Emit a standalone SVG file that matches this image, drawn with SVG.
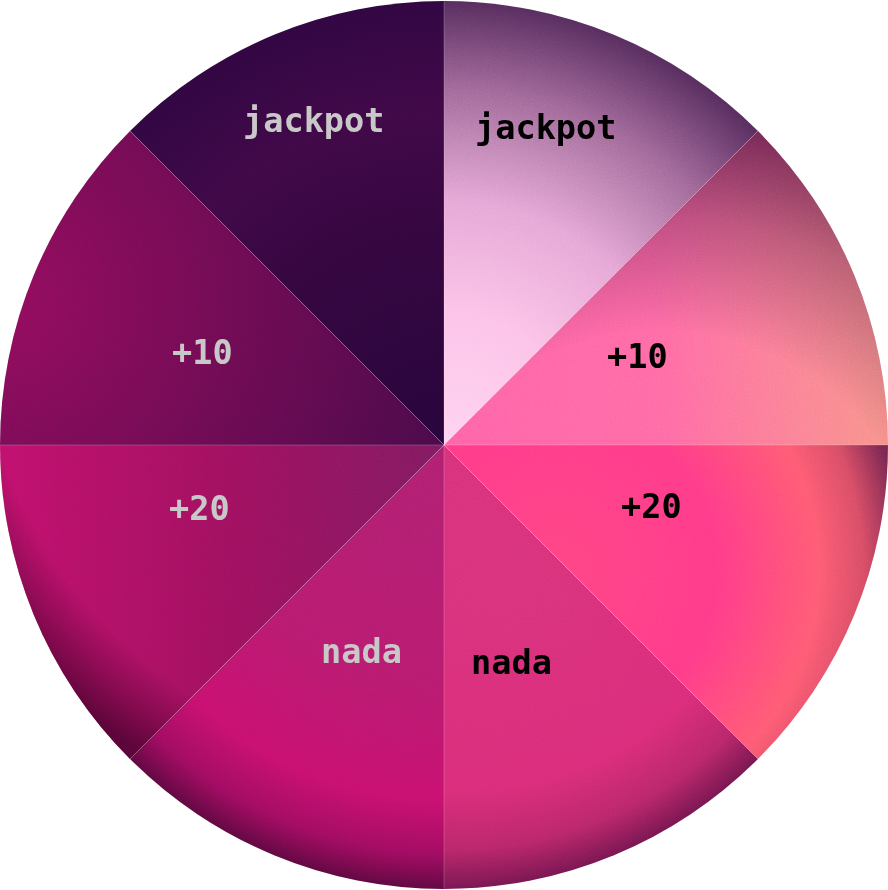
<svg xmlns="http://www.w3.org/2000/svg" width="888" height="890" viewBox="0 0 888 890">
<defs>
<style>
.lbl{font-family:"DejaVu Sans Mono","Liberation Mono",monospace;font-weight:bold;font-size:33.6px}
.dk{fill:#000000}
.lt{fill:#c8c8c8}
.seam{stroke:#ffffff;stroke-opacity:0.25;stroke-width:0.8;fill:none}
</style>
<clipPath id="pie"><circle cx="444" cy="445" r="444"/></clipPath>
<radialGradient id="g1" gradientUnits="userSpaceOnUse" cx="444" cy="445" r="444">
<stop offset="0" stop-color="#ffd2f2"/><stop offset="0.3" stop-color="#fcc2e8"/><stop offset="0.55" stop-color="#e6a6d6"/><stop offset="0.8" stop-color="#a06898"/><stop offset="1" stop-color="#552c5c"/>
</radialGradient>
<linearGradient id="g2" gradientUnits="userSpaceOnUse" x1="444" y1="445" x2="888" y2="420">
<stop offset="0" stop-color="#ff62a8"/><stop offset="0.5" stop-color="#ff6aa4"/><stop offset="1" stop-color="#f8928a"/>
</linearGradient>
<radialGradient id="v2" gradientUnits="userSpaceOnUse" cx="660" cy="600" r="480">
<stop offset="0.56" stop-color="#5a1848" stop-opacity="0"/><stop offset="0.8" stop-color="#5a1848" stop-opacity="0.4"/><stop offset="1" stop-color="#5a1848" stop-opacity="0.85"/>
</radialGradient>
<radialGradient id="g3" gradientUnits="userSpaceOnUse" cx="560" cy="570" r="345">
<stop offset="0" stop-color="#ff4482"/><stop offset="0.45" stop-color="#ff3a88"/><stop offset="0.75" stop-color="#ff5a72"/><stop offset="0.88" stop-color="#d84c64"/><stop offset="1" stop-color="#782650"/>
</radialGradient>
<radialGradient id="g4" gradientUnits="userSpaceOnUse" cx="444" cy="445" r="444" fx="520" fy="560">
<stop offset="0" stop-color="#d8327a"/><stop offset="0.7" stop-color="#da2c78"/><stop offset="0.88" stop-color="#b82668"/><stop offset="1" stop-color="#761650"/>
</radialGradient>
<radialGradient id="g5" gradientUnits="userSpaceOnUse" cx="444" cy="445" r="444">
<stop offset="0" stop-color="#ae2070"/><stop offset="0.55" stop-color="#b81a6e"/><stop offset="0.8" stop-color="#c8106e"/><stop offset="0.92" stop-color="#a00c60"/><stop offset="1" stop-color="#5e0840"/>
</radialGradient>
<linearGradient id="g6" gradientUnits="userSpaceOnUse" x1="0" y1="470" x2="444" y2="470">
<stop offset="0" stop-color="#c0106c"/><stop offset="0.5" stop-color="#a0105e"/><stop offset="1" stop-color="#7e1a60"/>
</linearGradient>
<radialGradient id="v6" gradientUnits="userSpaceOnUse" cx="444" cy="300" r="545">
<stop offset="0.86" stop-color="#3c0028" stop-opacity="0"/><stop offset="1" stop-color="#3c0028" stop-opacity="0.75"/>
</radialGradient>
<radialGradient id="g7" gradientUnits="userSpaceOnUse" cx="0" cy="300" r="470">
<stop offset="0" stop-color="#920c5c"/><stop offset="1" stop-color="#480a48"/>
</radialGradient>
<radialGradient id="g8" gradientUnits="userSpaceOnUse" cx="444" cy="445" r="444">
<stop offset="0" stop-color="#26043a"/><stop offset="0.5" stop-color="#34063e"/><stop offset="0.75" stop-color="#3e0845"/><stop offset="1" stop-color="#300640"/>
</radialGradient>
<filter id="grain" x="0" y="0" width="888" height="890" filterUnits="userSpaceOnUse">
<feTurbulence type="fractalNoise" baseFrequency="0.85" numOctaves="2" seed="3" result="n"/>
<feColorMatrix type="saturate" values="0"/>
</filter>
</defs>
<g id="slice-jackpot-right">
<path d="M444,445 L444,1 A444,444 0 0 1 757.96,131.04 Z" fill="url(#g1)"/>
</g>
<g id="slice-plus10-right">
<path d="M444,445 L757.96,131.04 A444,444 0 0 1 888,445 Z" fill="url(#g2)"/>
<path d="M444,445 L757.96,131.04 A444,444 0 0 1 888,445 Z" fill="url(#v2)"/>
</g>
<g id="slice-plus20-right">
<path d="M444,445 L888,445 A444,444 0 0 1 757.96,758.96 Z" fill="url(#g3)"/>
</g>
<g id="slice-nada-right">
<path d="M444,445 L757.96,758.96 A444,444 0 0 1 444,889 Z" fill="url(#g4)"/>
</g>
<g id="slice-nada-left">
<path d="M444,445 L444,889 A444,444 0 0 1 130.04,758.96 Z" fill="url(#g5)"/>
</g>
<g id="slice-plus20-left">
<path d="M444,445 L130.04,758.96 A444,444 0 0 1 0,445 Z" fill="url(#g6)"/>
<path d="M444,445 L130.04,758.96 A444,444 0 0 1 0,445 Z" fill="url(#v6)"/>
</g>
<g id="slice-plus10-left">
<path d="M444,445 L0,445 A444,444 0 0 1 130.04,131.04 Z" fill="url(#g7)"/>
</g>
<g id="slice-jackpot-left">
<path d="M444,445 L130.04,131.04 A444,444 0 0 1 444,1 Z" fill="url(#g8)"/>
</g>
<rect x="0" y="0" width="888" height="890" filter="url(#grain)" clip-path="url(#pie)" opacity="0.22" style="mix-blend-mode:overlay"/>
<g id="seams" class="seam">
<path d="M444,1 L444,889 M0,445 L888,445 M130.04,131.04 L757.96,758.96 M757.96,131.04 L130.04,758.96"/>
</g>
<g id="labels" class="lbl">
<text class="dk" x="475" y="139">jackpot</text>
<text class="lt" x="243" y="132">jackpot</text>
<text class="dk" x="607" y="368">+10</text>
<text class="lt" x="172" y="364">+10</text>
<text class="dk" x="621" y="518">+20</text>
<text class="lt" x="169" y="520">+20</text>
<text class="dk" x="471" y="674">nada</text>
<text class="lt" x="321" y="663">nada</text>
</g>
</svg>
